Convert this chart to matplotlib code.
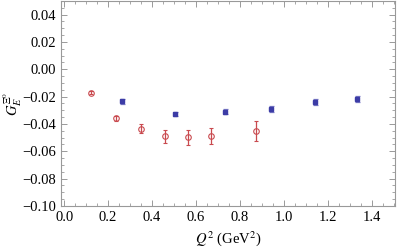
import numpy as np
import matplotlib
matplotlib.use('Agg')
import matplotlib.pyplot as plt
from matplotlib.ticker import MultipleLocator

# red (open circles)
q2_red = [0.121, 0.236, 0.348, 0.459, 0.565, 0.670, 0.871]
ge_red = [-0.0171, -0.0360, -0.0434, -0.0490, -0.0498, -0.0490, -0.0453]
err_red = [0.0010, 0.0020, 0.0034, 0.0047, 0.0053, 0.0059, 0.0075]

# blue (filled squares)
q2_blue = [0.264, 0.503, 0.730, 0.941, 1.142, 1.333]
ge_blue = [-0.0235, -0.0326, -0.0309, -0.0289, -0.0240, -0.0218]
err_blue = [0.0018, 0.0015, 0.0018, 0.0020, 0.0020, 0.0020]

plt.rcParams['font.family'] = ['Liberation Serif', 'DejaVu Serif']
plt.rcParams['mathtext.fontset'] = 'stix'

fig = plt.figure(figsize=(3.99, 2.49), dpi=100)
ax = fig.add_axes([0.153, 0.173, 0.837, 0.823])

red = '#c94a4f'
blue = '#3c3ca6'
ax.errorbar(q2_red, ge_red, yerr=err_red, fmt='o', mfc='none', mec=red, ms=4, mew=0.8,
            ecolor=red, elinewidth=0.9, capsize=1.6, capthick=0.9)
ax.errorbar(q2_blue, ge_blue, yerr=err_blue, fmt='s', mfc=blue, mec=blue, ms=2.2,
            ecolor='#7a7ac4', elinewidth=0.9, capsize=1.8, capthick=0.9)

ax.set_xlim(-0.014, 1.505)
ax.set_ylim(-0.1, 0.05)
ax.xaxis.set_major_locator(MultipleLocator(0.2))
ax.xaxis.set_minor_locator(MultipleLocator(0.05))
ax.yaxis.set_major_locator(MultipleLocator(0.02))
ax.yaxis.set_minor_locator(MultipleLocator(0.005))
ax.xaxis.set_major_formatter(matplotlib.ticker.FuncFormatter(lambda v, p: f'{v:.1f}'))
ax.yaxis.set_major_formatter(matplotlib.ticker.FuncFormatter(
    lambda v, p: ('\u2212' if v < -1e-9 else '') + f'{abs(v):.2f}'))

ax.tick_params(which='both', direction='in', top=True, right=True, color='#999999', labelsize=10.5)
ax.tick_params(which='major', length=4, width=0.7)
ax.tick_params(which='minor', length=2, width=0.6)
for s in ax.spines.values():
    s.set_color('#999999')
    s.set_linewidth(0.8)

ax.set_xlabel(r'$Q^2$ (GeV$^2$)', fontsize=10.5, labelpad=4)
ax.set_ylabel(r'$G_E^{\Xi^0}$', fontsize=10.5, labelpad=-1)

fig.savefig('out.png', dpi=100)
